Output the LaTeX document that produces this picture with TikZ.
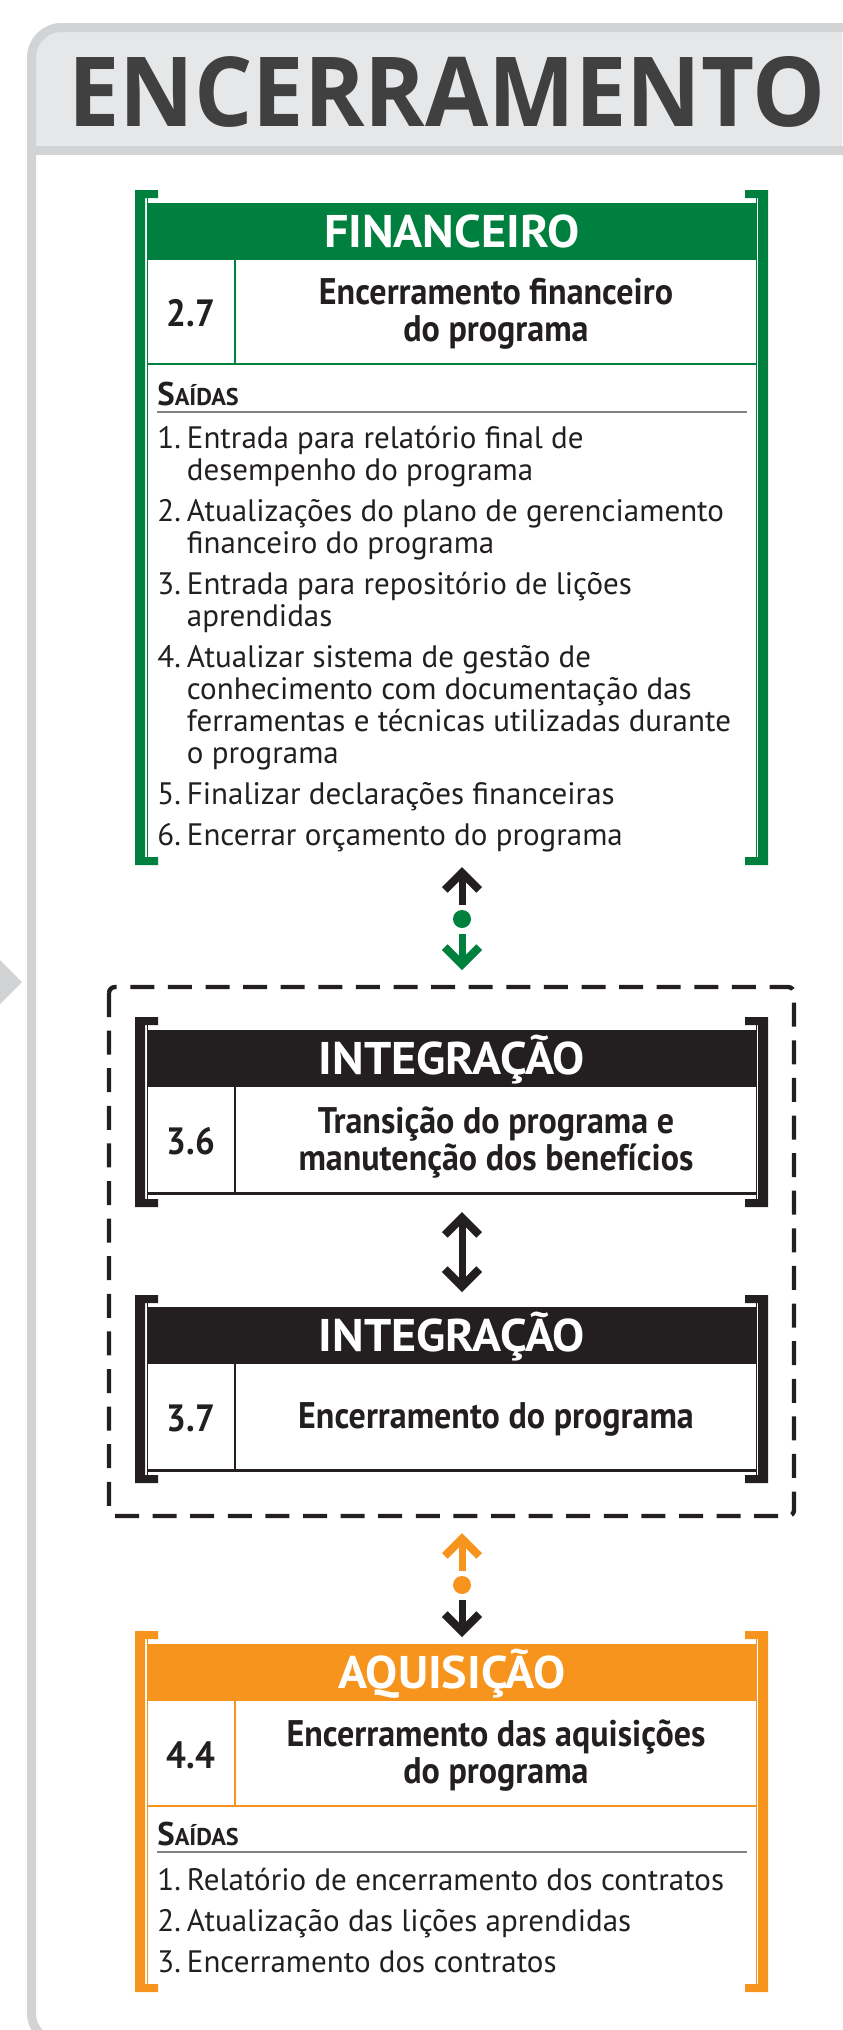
\documentclass[tikz,border=0pt]{standalone}
\usepackage{fontspec}
\setmainfont{PT Sans}
\newfontfamily\headfont[FakeStretch=0.92]{PT Sans}
\newfontfamily\hdrfont[FakeStretch=1.05]{PT Sans}
\newfontfamily\titlefont[FakeStretch=0.95]{Open Sans}
\usetikzlibrary{arrows.meta}
\definecolor{finGreen}{RGB}{0,128,62}
\definecolor{acqOrange}{RGB}{247,148,29}
\definecolor{intBlack}{RGB}{35,31,32}
\definecolor{frameGray}{RGB}{209,211,212}
\definecolor{bandGray}{RGB}{230,231,232}
\definecolor{titleGray}{RGB}{64,64,65}
\definecolor{ruleGray}{RGB}{128,130,133}

\begin{document}
\begin{tikzpicture}[x=0.5pt,y=-0.5pt,
    hdr/.style={minimum width=305pt,minimum height=28.5pt,inner sep=0pt,text=white,
      font=\hdrfont\bfseries\fontsize{22.9}{24}\selectfont,text height=16pt,text depth=0pt},
    num/.style={inner sep=0pt,text=intBlack,font=\headfont\bfseries\fontsize{19}{19}\selectfont},
    ttl/.style={inner sep=0pt,align=center,text=intBlack,font=\headfont\bfseries\fontsize{18.5}{18.5}\selectfont},
    outlbl/.style={anchor=base west,inner sep=0pt,text=intBlack,font=\bfseries},
    outlist/.style={anchor=base west,inner sep=0pt,text=intBlack,font=\fontsize{15.5}{16}\selectfont},
    Chev/.tip={Straight Barb[length=8.6pt,width=17.2pt,line width=4pt,sharp]},
    chev/.style={line width=3.5pt,-{Chev}},
    tipdot/.style={circle,fill,inner sep=0pt,minimum size=9pt}]
  \useasboundingbox (0,0) rectangle (842,2030);
  % frame and title band
  \begin{scope}
    \clip (0,0) rectangle (842,150.5);
    \fill[bandGray,rounded corners=15pt] (31.5,27.5) rectangle (880,2043);
  \end{scope}
  \draw[frameGray,line width=4.5pt,rounded corners=15pt] (31.5,27.5) rectangle (880,2043);
  \draw[frameGray,line width=4.5pt] (31.5,150.5) -- (880,150.5);
  \fill[frameGray] (-20,940) -- (22,982) -- (-20,1024) -- cycle;
  \node[anchor=base,inner sep=0pt,text=titleGray,font=\titlefont\bfseries\fontsize{48.3}{50}\selectfont] (title) at (447,126) {ENCERRAMENTO};

  % brackets
  \foreach \t/\b/\c in {190/865/finGreen,1017/1207/intBlack,1295/1483/intBlack,1631/1992/acqOrange}{
    \fill[\c] (135,\t) rectangle (145,\b) (135,\t) rectangle (158,\t+8) (135,\b-8) rectangle (158,\b);
    \fill[\c] (758,\t) rectangle (768,\b) (745,\t) rectangle (768,\t+8) (745,\b-8) rectangle (768,\b);
    \draw[\c,line width=0.5pt] (147,\t+8) -- (147,\b-8) (756.5,\t+8) -- (756.5,\b-8);
  }

  % 2.7
  \node[hdr,fill=finGreen] (fin) at (452,231.5) {FINANCEIRO};
  \draw[finGreen,line width=1pt] (235,260) -- (235,364) (147,364) -- (757,364);
  \node[num] (finnum) at (191,313) {2.7};
  \node[ttl] (fintitle) at (496,314) {Encerramento financeiro\\do programa};
  \node[outlbl] (finout) at (157,405) {\fontsize{16.4}{17}\selectfont S\fontsize{12.1}{13}\selectfont AÍDAS};
  \draw[ruleGray,line width=1pt] (157,412) -- (747,412);
  \node[outlist] (finlist) at (157,448) {\begin{tabular}[t]{@{}l@{\hspace{3pt}}l@{}}
    1. & Entrada para relatório final de\\
       & desempenho do programa\\[4.5pt]
    2. & Atualizações do plano de gerenciamento\\
       & financeiro do programa\\[4.5pt]
    3. & Entrada para repositório de lições\\
       & aprendidas\\[4.5pt]
    4. & Atualizar sistema de gestão de\\
       & conhecimento com documentação das\\
       & ferramentas e técnicas utilizadas durante\\
       & o programa\\[4.5pt]
    5. & Finalizar declarações financeiras\\[4.5pt]
    6. & Encerrar orçamento do programa
  \end{tabular}};

  % dashed group
  \draw[intBlack,line width=2.2pt,rounded corners=3pt,dash pattern=on 12pt off 6.8pt] (109,987) rectangle (794,1516);

  % 3.6
  \node[hdr,fill=intBlack] (int36) at (452,1058.5) {INTEGRAÇÃO};
  \draw[intBlack,line width=1pt] (235,1087) -- (235,1193);
  \draw[intBlack,line width=1.5pt] (147,1193) -- (757,1193);
  \node[num] (int36num) at (191,1141) {3.6};
  \node[ttl] (int36title) at (496,1142) {Transição do programa e\\manutenção dos benefícios};

  % 3.7
  \node[hdr,fill=intBlack] (int37) at (452,1335) {INTEGRAÇÃO};
  \draw[intBlack,line width=1pt] (235,1363) -- (235,1470);
  \draw[intBlack,line width=1.5pt] (147,1470) -- (757,1470);
  \node[num] (int37num) at (191,1418) {3.7};
  \node[ttl] (int37title) at (496,1419) {Encerramento do programa};

  % 4.4
  \node[hdr,fill=acqOrange] (acq) at (452,1672.5) {AQUISIÇÃO};
  \draw[acqOrange,line width=1pt] (235,1701) -- (235,1806) (147,1806) -- (757,1806);
  \node[num] (acqnum) at (191,1755) {4.4};
  \node[ttl] (acqtitle) at (496,1756) {Encerramento das aquisições\\do programa};
  \node[outlbl] (acqout) at (157,1845) {\fontsize{16.4}{17}\selectfont S\fontsize{12.1}{13}\selectfont AÍDAS};
  \draw[ruleGray,line width=1pt] (157,1852) -- (747,1852);
  \node[outlist] (acqlist) at (157,1890) {\begin{tabular}[t]{@{}l@{\hspace{3pt}}l@{}}
    1. & Relatório de encerramento dos contratos\\[4.5pt]
    2. & Atualização das lições aprendidas\\[4.5pt]
    3. & Encerramento dos contratos
  \end{tabular}};

  % connectors
  \coordinate (finbot) at (462,867);
  \coordinate (dashtop) at (462,970);
  \coordinate (int36bot) at (462,1212);
  \coordinate (int37top) at (462,1292);
  \coordinate (dashbot) at (462,1533);
  \coordinate (acqtop) at (462,1637);
  \node[tipdot,finGreen] (dotfin) at (462,919) {};
  \node[tipdot,acqOrange] (dotacq) at (462,1585) {};
  \draw[chev,intBlack,shorten <=2.5pt] (dotfin) -- (finbot);
  \draw[chev,finGreen,shorten <=3pt] (dotfin) -- (dashtop);
  \draw[chev,intBlack,{Chev}-{Chev}] (int36bot) -- (int37top);
  \draw[chev,acqOrange,shorten <=2.5pt] (dotacq) -- (dashbot);
  \draw[chev,intBlack,shorten <=3pt] (dotacq) -- (acqtop);
\end{tikzpicture}
\end{document}
